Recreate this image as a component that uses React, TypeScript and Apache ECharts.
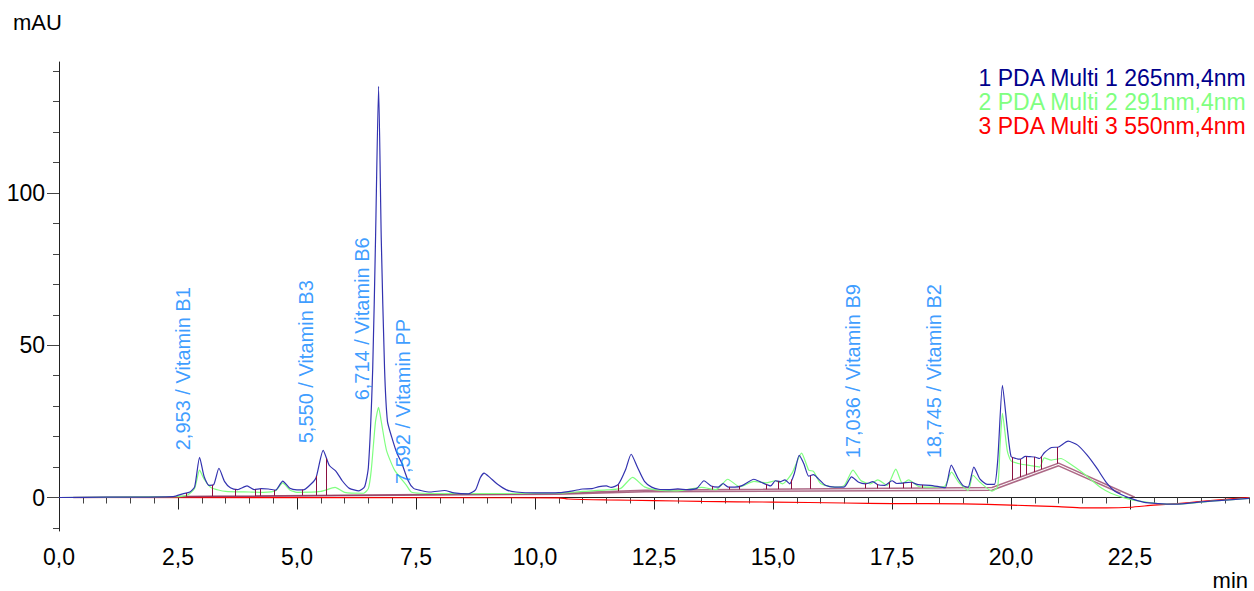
import React, { useEffect, useRef } from "react";
import * as echarts from "echarts";

const seriesNames = [
  "1 PDA Multi 1 265nm,4nm",
  "2 PDA Multi 2 291nm,4nm",
  "3 PDA Multi 3 550nm,4nm",
];

// time (min), absorbance (mAU)
const trace265: [number, number][] = [
  [0, 0], [1.0, 0.1], [2.4, 0.3], [2.6, 1.2], [2.75, 1.8], [2.85, 3.5], [2.953, 13.2], [3.05, 6.8],
  [3.15, 4.0], [3.25, 4.2], [3.36, 9.6], [3.48, 5.2], [3.6, 3.2], [3.75, 2.6], [3.95, 3.8], [4.1, 2.6],
  [4.25, 2.9], [4.4, 2.8], [4.55, 2.4], [4.7, 5.4], [4.85, 3.0], [5.0, 2.5], [5.15, 2.6], [5.3, 4.5],
  [5.4, 6.5], [5.55, 15.5], [5.68, 10.5], [5.82, 8.6], [5.95, 5.5], [6.1, 3.0], [6.3, 2.2], [6.42, 3.5],
  [6.5, 10], [6.59, 42], [6.65, 85], [6.714, 135], [6.77, 85], [6.84, 42], [6.9, 25], [6.99, 19.8],
  [7.1, 14.5], [7.2, 11.3], [7.33, 5.7], [7.45, 3.0], [7.6, 2.3], [7.8, 1.8], [8.1, 2.3], [8.3, 1.5],
  [8.6, 1.2], [8.75, 2.5], [8.85, 6.5], [8.93, 8], [9.05, 6.6], [9.2, 4.5], [9.4, 2.5], [9.6, 1.8],
  [10.0, 1.5], [10.5, 1.6], [10.8, 2.2], [11.0, 2.8], [11.2, 2.9], [11.35, 3.6], [11.5, 3.8], [11.6, 3.3],
  [11.75, 4.3], [11.9, 9], [12.02, 14.2], [12.15, 10], [12.3, 5.3], [12.45, 3.4], [12.6, 2.7], [12.8, 2.6],
  [13.0, 2.8], [13.2, 2.6], [13.4, 3.0], [13.55, 5.5], [13.7, 3.8], [13.85, 3.4], [13.95, 4.6], [14.05, 3.5],
  [14.2, 3.4], [14.35, 3.9], [14.6, 6.0], [14.75, 5.0], [14.95, 3.8], [15.05, 5.5], [15.15, 5.2], [15.25, 5.8],
  [15.35, 4.5], [15.45, 8], [15.55, 13.8], [15.65, 11], [15.75, 7], [15.85, 7.5], [15.95, 6.2], [16.1, 4.0],
  [16.3, 3.4], [16.5, 3.5], [16.65, 6.8], [16.8, 5.0], [16.95, 4.5], [17.1, 5.2], [17.2, 4.2], [17.35, 4.0],
  [17.5, 5.5], [17.6, 4.6], [17.75, 4.8], [17.9, 5.0], [18.05, 4.2], [18.3, 4.0], [18.5, 3.5], [18.62, 3.2],
  [18.745, 10.6], [18.88, 6.5], [19.0, 3.8], [19.1, 3.4], [19.22, 10], [19.35, 6], [19.5, 4.3], [19.65, 4.3],
  [19.72, 12], [19.82, 36.8], [19.92, 23], [20.0, 13.5], [20.1, 12.8], [20.2, 12.6], [20.3, 13.5], [20.4, 13.4],
  [20.5, 13.3], [20.6, 12.8], [20.7, 14.7], [20.85, 16.4], [21.0, 16.6], [21.2, 18.5], [21.4, 17.2], [21.6, 13.9],
  [21.8, 9.7], [22.0, 5.0], [22.2, 1.9], [22.5, -0.2], [22.8, -1.6], [23.1, -2.0], [23.4, -2.2], [23.7, -1.9],
  [24.2, -1.2], [25.0, -0.3],
];

const trace291: [number, number][] = [
  [0, 0], [2.5, 0.3], [2.7, 0.8], [2.85, 3], [2.953, 9], [3.05, 6], [3.2, 3.2], [3.5, 2.0], [4.0, 1.8],
  [4.3, 1.7], [4.55, 2.2], [4.7, 4.8], [4.85, 2.5], [5.0, 1.7], [5.5, 2.0], [5.8, 3.3], [6.0, 1.7], [6.4, 1.4],
  [6.5, 3], [6.56, 9], [6.65, 25], [6.714, 29.6], [6.77, 25], [6.88, 15.5], [7.05, 9], [7.3, 4], [7.4, 1.8],
  [7.6, 1.4], [8.5, 1.3], [10.5, 1.4], [11.0, 2], [11.5, 2.5], [11.8, 3], [12.05, 6.6], [12.3, 3.5], [12.6, 2.4],
  [13.0, 2.2], [13.5, 3.3], [13.8, 2.6], [14.05, 6], [14.3, 3.5], [14.6, 5.3], [14.85, 4.8], [15.05, 5.5],
  [15.2, 4.5], [15.4, 8], [15.6, 14.6], [15.75, 9], [15.85, 8.6], [16.0, 4.6], [16.3, 3.4], [16.5, 4],
  [16.68, 9], [16.85, 5.5], [17.05, 4.5], [17.2, 5.8], [17.4, 4], [17.58, 9.3], [17.72, 4.6], [17.85, 5.8],
  [18.05, 3.7], [18.3, 3.4], [18.6, 3.6], [18.75, 8.3], [18.9, 5], [19.1, 2.3], [19.2, 7.3], [19.35, 5],
  [19.6, 2.1], [19.72, 3.5], [19.77, 17], [19.82, 27.6], [19.92, 15.5], [20.0, 12], [20.2, 11], [20.4, 10.5],
  [20.6, 10], [20.7, 13], [20.85, 12.3], [21.05, 12.8], [21.2, 11.5], [21.5, 8.2], [21.7, 5.6], [21.9, 3.1],
  [22.1, 1.4], [22.4, -0.2], [22.7, -1.2], [23.1, -2.0], [23.5, -2.2], [24.2, -1.2], [25.0, -0.3],
];

const trace550: [number, number][] = [
  [0, 0], [10.5, -0.1], [10.7, -0.5], [11.5, -0.8], [12.5, -1.0], [13.5, -1.3], [15.0, -1.5], [16.5, -1.8],
  [17.5, -2.0], [19.0, -2.1], [20.0, -2.5], [21.0, -3.0], [21.5, -3.4], [22.0, -3.4], [22.5, -3.2],
  [23.0, -2.5], [23.5, -2.0], [24.0, -1.3], [24.5, -0.6], [25.0, 0.0],
];

// integration baselines
const baseline265: [number, number][] = [
  [2.5, 0.3], [10.5, 1.4], [12.3, 2.4], [19.6, 3.3], [21.0, 11.3], [22.6, 0.1],
];
const baseline291: [number, number][] = [
  [0.3, 0], [10.5, 1.1], [12.3, 1.9], [19.6, 2.4], [21.0, 10.4], [22.3, 1.4],
];
// peak boundary drop lines (min)
const dropTimes = [
  2.67, 3.23, 3.71, 4.13, 4.22, 4.53, 5.1, 5.41, 5.62, 11.74, 13.2, 13.73, 14.09, 14.3, 14.86, 15.1,
  15.39, 15.79, 16.93, 17.18, 17.45, 17.73, 17.9, 18.14, 20.03, 20.2, 20.33, 20.48, 20.64, 20.97,
];

const peakTimes = [2.953, 5.55, 6.714, 7.592, 17.036, 18.745];
const peakNames = ["Vitamin B1", "Vitamin B3", "Vitamin B6", "Vitamin PP", "Vitamin B9", "Vitamin B2"];
const peakLabelLevels = [15.5, 17.8, 31.9, 4.4, 12.9, 12.9];

const xMajorTicks = [0, 2.5, 5, 7.5, 10, 12.5, 15, 17.5, 20, 22.5];
const yMajorTicks = [0, 50, 100];
const yMinorTicks = [-10, 0, 10, 20, 30, 40, 50, 60, 70, 80, 90, 100, 110, 120, 130, 140];

const FONT = 'Arial, "Liberation Sans", sans-serif';

function interp(arr: [number, number][], t: number): number {
  if (t <= arr[0][0]) return arr[0][1];
  for (let i = 1; i < arr.length; i++) {
    if (t <= arr[i][0]) {
      const [x0, y0] = arr[i - 1];
      const [x1, y1] = arr[i];
      return y0 + ((y1 - y0) * (t - x0)) / (x1 - x0);
    }
  }
  return arr[arr.length - 1][1];
}

export default function App() {
  const ref = useRef<HTMLDivElement>(null);
  useEffect(() => {
    if (!ref.current) return;
    const chart = echarts.init(ref.current, undefined, { renderer: "svg" });
    const maroon = "#8a2a52";
    const option: any = {
      animation: false,
      backgroundColor: "#ffffff",
      textStyle: { fontFamily: FONT },
      grid: { left: 59, right: 5, top: 62, bottom: 60, containLabel: false },
      legend: {
        orient: "vertical",
        right: 2,
        top: 61,
        icon: "none",
        itemWidth: 0,
        itemHeight: 10,
        itemGap: 0,
        selectedMode: false,
        textStyle: { fontSize: 23, fontFamily: FONT, lineHeight: 24 },
        data: [
          { name: seriesNames[0], textStyle: { color: "#00008c" } },
          { name: seriesNames[1], textStyle: { color: "#80ff80" } },
          { name: seriesNames[2], textStyle: { color: "#ff0000" } },
        ],
      },
      xAxis: [
        {
          type: "value", min: 0, max: 25, interval: 0.5, position: "bottom",
          axisLine: { show: true, lineStyle: { color: "#222", width: 1 } },
          axisTick: { show: true, length: 6, lineStyle: { color: "#444" } },
          axisLabel: { show: false },
          splitLine: { show: false },
        },
        {
          type: "value", min: 0, max: 25, position: "bottom",
          axisLine: { show: false },
          axisTick: { show: true, length: 12, customValues: xMajorTicks, lineStyle: { color: "#222" } },
          axisLabel: {
            show: true, customValues: xMajorTicks, fontSize: 23, color: "#000", margin: 14, fontFamily: FONT,
            formatter: (v: number) => v.toFixed(1).replace(".", ","),
          },
          splitLine: { show: false },
        },
      ],
      yAxis: [
        {
          type: "value", min: -11, max: 143, position: "left",
          axisLine: { show: true, lineStyle: { color: "#222", width: 1 } },
          axisTick: { show: true, length: 6, customValues: yMinorTicks, lineStyle: { color: "#444" } },
          axisLabel: { show: false },
          splitLine: { show: false },
        },
        {
          type: "value", min: -11, max: 143, position: "left",
          axisLine: { show: false },
          axisTick: { show: true, length: 12, customValues: yMajorTicks, lineStyle: { color: "#444" } },
          axisLabel: {
            show: true, customValues: yMajorTicks, fontSize: 23, color: "#000", margin: 14, fontFamily: FONT,
          },
          splitLine: { show: false },
        },
      ],
      series: [
        {
          type: "line", name: seriesNames[2], data: trace550, symbol: "none", smooth: 0.2,
          lineStyle: { color: "#ff0000", width: 1.2 }, itemStyle: { color: "#ff0000" }, z: 2,
        },
        {
          type: "line", name: "baseline-291", data: baseline291, symbol: "none",
          lineStyle: { color: maroon, width: 1.5, opacity: 0.7 }, itemStyle: { color: maroon }, z: 3,
        },
        {
          type: "line", name: "baseline-265", data: baseline265, symbol: "none",
          lineStyle: { color: maroon, width: 1.5, opacity: 0.7 }, itemStyle: { color: maroon }, z: 3,
        },
        {
          type: "line", name: seriesNames[1], data: trace291, symbol: "none", smooth: 0.2,
          lineStyle: { color: "#80ff80", width: 1.2 }, itemStyle: { color: "#80ff80" }, z: 4,
        },
        {
          type: "line", name: seriesNames[0], data: trace265, symbol: "none", smooth: 0.2,
          lineStyle: { color: "#3333b0", width: 1.2 }, itemStyle: { color: "#3333b0" }, z: 5,
        },
        {
          type: "lines", name: "drops", coordinateSystem: "cartesian2d", xAxisIndex: 0, yAxisIndex: 0,
          data: dropTimes.map((t) => ({ coords: [[t, interp(baseline265, t)], [t, interp(trace265, t)]] })),
          lineStyle: { color: "#8b1040", width: 1, opacity: 1 }, silent: true, z: 6,
        },
        {
          type: "scatter", name: "peaks", xAxisIndex: 0, yAxisIndex: 0, symbolSize: 1, silent: true, z: 7,
          itemStyle: { color: "rgba(0,0,0,0)" },
          data: peakTimes.map((t, i) => ({
            value: [t, peakLabelLevels[i]],
            text: `${t.toFixed(3).replace(".", ",")} / ${peakNames[i]}`,
          })),
          label: {
            show: true, position: "inside", rotate: 90, align: "left", verticalAlign: "middle",
            offset: [0, -17], color: "#0a84ff", fontSize: 20, fontFamily: FONT, textBorderWidth: 0,
            formatter: (p: any) => p.data.text,
          },
        },
      ],
      graphic: [
        { type: "text", left: 13, top: 11, style: { text: "mAU", fontSize: 22, fontFamily: FONT, fill: "#000" } },
        { type: "text", right: 6, top: 569, style: { text: "min", fontSize: 22, fontFamily: FONT, fill: "#000" } },
      ],
    };
    chart.setOption(option);
    return () => chart.dispose();
  }, []);
  return (
    <div
      ref={ref}
      style={{ position: "absolute", left: 0, top: 0, width: 1254, height: 591, background: "#fff" }}
    />
  );
}
